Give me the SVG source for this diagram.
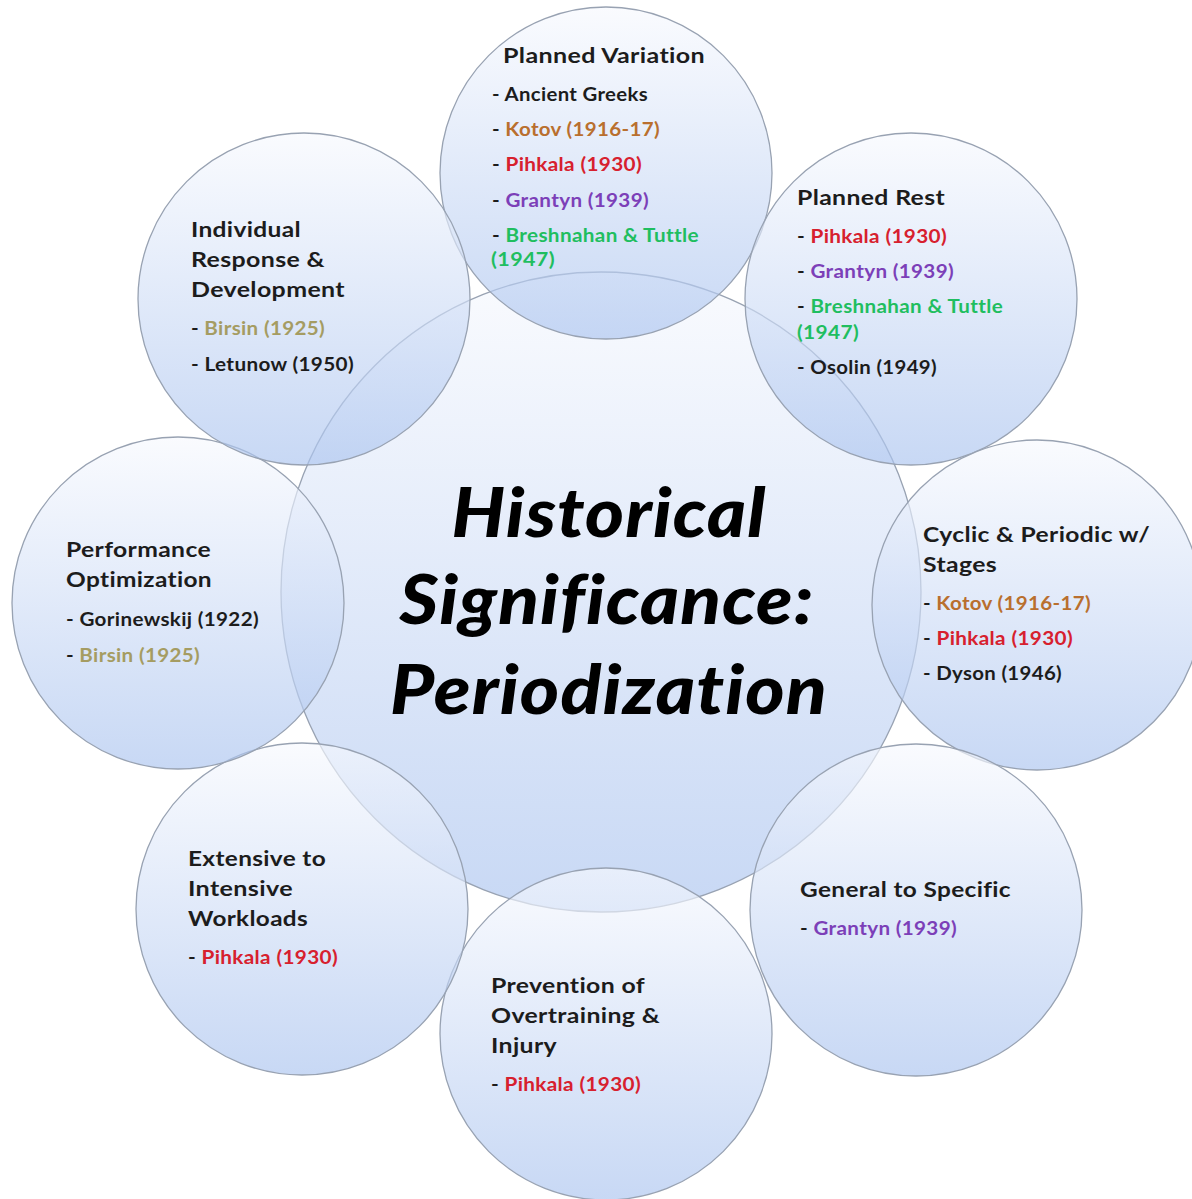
<svg xmlns="http://www.w3.org/2000/svg" width="1192" height="1199" viewBox="0 0 1192 1199">
<defs>
<linearGradient id="g" x1="0" y1="0" x2="0" y2="1">
<stop offset="0" stop-color="#f7f9fe"/>
<stop offset="1" stop-color="#abc4ef"/>
</linearGradient>
<style>
.c{fill:url(#g);fill-opacity:0.66;stroke:#98a2b2;stroke-width:1.3}
text{font-family:Lato,"Open Sans","Liberation Sans",sans-serif;font-weight:bold;font-variant-ligatures:none;letter-spacing:0.3px}
.t{font-size:21px;fill:#1c1c1c}
.i{font-size:18px;fill:#1c1c1c}
.k{fill:#b96f2e}
.r{fill:#d7202e}
.p{fill:#7c3fb8}
.gr{fill:#1fbe60}
.o{fill:#a59c62}
.b{fill:#1c1c1c}
.m{font-size:68px;font-style:italic;font-weight:900;fill:#000;letter-spacing:1px}
</style>
</defs>
<rect width="1192" height="1199" fill="#ffffff"/>
<g id="center">
<circle class="c" cx="601" cy="592" r="320"/>
<text class="m" x="609" y="537" text-anchor="middle" textLength="315" lengthAdjust="spacingAndGlyphs">Historical</text>
<text class="m" x="607" y="624" text-anchor="middle" textLength="415" lengthAdjust="spacingAndGlyphs">Significance:</text>
<text class="m" x="609" y="714" text-anchor="middle" textLength="438" lengthAdjust="spacingAndGlyphs">Periodization</text>
</g>
<g id="planned-variation">
<circle class="c" cx="606" cy="173" r="166"/>
<text class="t" x="503" y="63" textLength="202" lengthAdjust="spacingAndGlyphs">Planned Variation</text>
<text class="i" x="492" y="101" textLength="156" lengthAdjust="spacingAndGlyphs">- Ancient Greeks</text>
<text class="i" x="492" y="136" textLength="168" lengthAdjust="spacingAndGlyphs"><tspan class="b">- </tspan><tspan class="k">Kotov (1916-17)</tspan></text>
<text class="i" x="492" y="171" textLength="150" lengthAdjust="spacingAndGlyphs"><tspan class="b">- </tspan><tspan class="r">Pihkala (1930)</tspan></text>
<text class="i" x="492" y="207" textLength="157" lengthAdjust="spacingAndGlyphs"><tspan class="b">- </tspan><tspan class="p">Grantyn (1939)</tspan></text>
<text class="i" x="492" y="242" textLength="207" lengthAdjust="spacingAndGlyphs"><tspan class="b">- </tspan><tspan class="gr">Breshnahan &amp; Tuttle</tspan></text>
<text class="i gr" x="491" y="266" textLength="64" lengthAdjust="spacingAndGlyphs">(1947)</text>
</g>
<g id="planned-rest">
<circle class="c" cx="911" cy="299" r="166"/>
<text class="t" x="797" y="205" textLength="148" lengthAdjust="spacingAndGlyphs">Planned Rest</text>
<text class="i" x="797" y="243" textLength="150" lengthAdjust="spacingAndGlyphs"><tspan class="b">- </tspan><tspan class="r">Pihkala (1930)</tspan></text>
<text class="i" x="797" y="278" textLength="157" lengthAdjust="spacingAndGlyphs"><tspan class="b">- </tspan><tspan class="p">Grantyn (1939)</tspan></text>
<text class="i" x="797" y="313" textLength="206" lengthAdjust="spacingAndGlyphs"><tspan class="b">- </tspan><tspan class="gr">Breshnahan &amp; Tuttle</tspan></text>
<text class="i gr" x="797" y="339" textLength="62" lengthAdjust="spacingAndGlyphs">(1947)</text>
<text class="i" x="797" y="374" textLength="140" lengthAdjust="spacingAndGlyphs">- Osolin (1949)</text>
</g>
<g id="cyclic">
<circle class="c" cx="1037" cy="605" r="165"/>
<text class="t" x="923" y="542" textLength="227" lengthAdjust="spacingAndGlyphs">Cyclic &amp; Periodic w/</text>
<text class="t" x="923" y="572" textLength="74" lengthAdjust="spacingAndGlyphs">Stages</text>
<text class="i" x="923" y="610" textLength="168" lengthAdjust="spacingAndGlyphs"><tspan class="b">- </tspan><tspan class="k">Kotov (1916-17)</tspan></text>
<text class="i" x="923" y="645" textLength="150" lengthAdjust="spacingAndGlyphs"><tspan class="b">- </tspan><tspan class="r">Pihkala (1930)</tspan></text>
<text class="i" x="923" y="680" textLength="139" lengthAdjust="spacingAndGlyphs">- Dyson (1946)</text>
</g>
<g id="general-to-specific">
<circle class="c" cx="916" cy="910" r="166"/>
<text class="t" x="800" y="897" textLength="211" lengthAdjust="spacingAndGlyphs">General to Specific</text>
<text class="i" x="800" y="935" textLength="157" lengthAdjust="spacingAndGlyphs"><tspan class="b">- </tspan><tspan class="p">Grantyn (1939)</tspan></text>
</g>
<g id="prevention">
<circle class="c" cx="606" cy="1034" r="166"/>
<text class="t" x="491" y="993" textLength="154" lengthAdjust="spacingAndGlyphs">Prevention of</text>
<text class="t" x="491" y="1023" textLength="169" lengthAdjust="spacingAndGlyphs">Overtraining &amp;</text>
<text class="t" x="491" y="1053" textLength="66" lengthAdjust="spacingAndGlyphs">Injury</text>
<text class="i" x="491" y="1091" textLength="150" lengthAdjust="spacingAndGlyphs"><tspan class="b">- </tspan><tspan class="r">Pihkala (1930)</tspan></text>
</g>
<g id="extensive">
<circle class="c" cx="302" cy="909" r="166"/>
<text class="t" x="188" y="866" textLength="138" lengthAdjust="spacingAndGlyphs">Extensive to</text>
<text class="t" x="188" y="896" textLength="105" lengthAdjust="spacingAndGlyphs">Intensive</text>
<text class="t" x="188" y="926" textLength="120" lengthAdjust="spacingAndGlyphs">Workloads</text>
<text class="i" x="188" y="964" textLength="150" lengthAdjust="spacingAndGlyphs"><tspan class="b">- </tspan><tspan class="r">Pihkala (1930)</tspan></text>
</g>
<g id="performance">
<circle class="c" cx="178" cy="603" r="166"/>
<text class="t" x="66" y="557" textLength="145" lengthAdjust="spacingAndGlyphs">Performance</text>
<text class="t" x="66" y="587" textLength="146" lengthAdjust="spacingAndGlyphs">Optimization</text>
<text class="i" x="66" y="626" textLength="193" lengthAdjust="spacingAndGlyphs">- Gorinewskij (1922)</text>
<text class="i" x="66" y="662" textLength="134" lengthAdjust="spacingAndGlyphs"><tspan class="b">- </tspan><tspan class="o">Birsin (1925)</tspan></text>
</g>
<g id="individual">
<circle class="c" cx="304" cy="299" r="166"/>
<text class="t" x="191" y="237" textLength="110" lengthAdjust="spacingAndGlyphs">Individual</text>
<text class="t" x="191" y="267" textLength="134" lengthAdjust="spacingAndGlyphs">Response &amp;</text>
<text class="t" x="191" y="297" textLength="154" lengthAdjust="spacingAndGlyphs">Development</text>
<text class="i" x="191" y="335" textLength="134" lengthAdjust="spacingAndGlyphs"><tspan class="b">- </tspan><tspan class="o">Birsin (1925)</tspan></text>
<text class="i" x="191" y="371" textLength="163" lengthAdjust="spacingAndGlyphs">- Letunow (1950)</text>
</g>
<g id="connectors"/>
</svg>
